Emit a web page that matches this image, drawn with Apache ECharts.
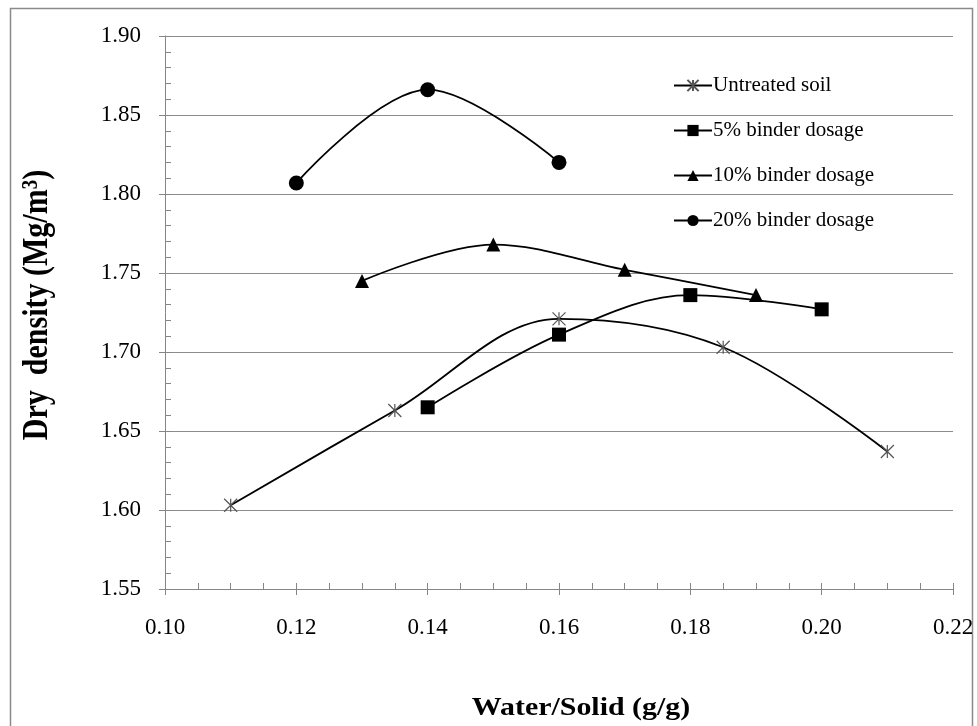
<!DOCTYPE html>
<html>
<head>
<meta charset="utf-8">
<script src="https://cdn.jsdelivr.net/npm/echarts@6/dist/echarts.min.js"></script>
<style>
  html, body { margin: 0; padding: 0; background: #fff; }
  #chart { width: 977px; height: 726px; }
</style>
</head>
<body>
<div id="chart"></div>
<script>
const seriesNames = ["Untreated soil", "5% binder dosage", "10% binder dosage", "20% binder dosage"];

const untreatedX = [0.11, 0.135, 0.16, 0.185, 0.21];
const untreatedY = [1.603, 1.663, 1.721, 1.703, 1.637];
const binder5X = [0.14, 0.16, 0.18, 0.20];
const binder5Y = [1.665, 1.711, 1.736, 1.727];
const binder10X = [0.13, 0.15, 0.17, 0.19];
const binder10Y = [1.745, 1.768, 1.752, 1.736];
const binder20X = [0.12, 0.14, 0.16];
const binder20Y = [1.807, 1.866, 1.820];

const xTicks = [0.10, 0.12, 0.14, 0.16, 0.18, 0.20, 0.22];
const yTicks = [1.55, 1.60, 1.65, 1.70, 1.75, 1.80, 1.85, 1.90];

const font = "Liberation Serif";
const axisGray = "#868686";
const asterisk = "path://M0,0L10,10M10,0L0,10M5,0L5,10";

function pairs(xs, ys) {
  return xs.map((x, i) => [x, ys[i]]);
}

var chart = echarts.init(document.getElementById("chart"));

function lineSeries(name, data, symbol, size, style) {
  return {
    type: "line",
    name: name,
    data: data,
    smooth: 0.35,
    symbol: symbol,
    symbolSize: size,
    showAllSymbol: true,
    lineStyle: { color: "#000", width: 1.8 },
    itemStyle: style,
    z: 3,
  };
}

var option = {
  backgroundColor: "#fff",
  animation: false,
  textStyle: { fontFamily: font },
  grid: { left: 165, right: 24, top: 36, bottom: 137 },
  legend: {
    orient: "vertical",
    left: 673,
    top: 75,
    itemWidth: 38,
    itemHeight: 14,
    itemGap: 24,
    padding: 0,
    textStyle: { fontFamily: font, fontSize: 21, color: "#000", padding: [0, 0, 0, -4] },
    data: seriesNames,
  },
  xAxis: [
    {
      type: "value",
      min: xTicks[0],
      max: xTicks[xTicks.length - 1],
      interval: 0.02,
      axisLine: { show: true, lineStyle: { color: axisGray, width: 1 } },
      axisTick: { show: true, length: 6, lineStyle: { color: axisGray } },
      minorTick: { show: true, splitNumber: 4, length: -6, lineStyle: { color: axisGray } },
      splitLine: { show: false },
      axisLabel: {
        margin: 27,
        fontFamily: font,
        fontSize: 23,
        color: "#000",
        formatter: (v) => v.toFixed(2),
      },
    },
    {
      type: "value",
      position: "bottom",
      min: xTicks[0],
      max: xTicks[xTicks.length - 1],
      interval: 0.02,
      axisLine: { show: false },
      axisTick: { show: true, inside: true, length: 6, lineStyle: { color: axisGray } },
      axisLabel: { show: false },
      splitLine: { show: false },
    },
  ],
  yAxis: [
    {
      type: "value",
      min: yTicks[0],
      max: yTicks[yTicks.length - 1],
      interval: 0.05,
      axisLine: { show: true, lineStyle: { color: axisGray, width: 1 } },
      axisTick: { show: true, length: 6, lineStyle: { color: axisGray } },
      minorTick: { show: true, splitNumber: 5, length: -6, lineStyle: { color: axisGray } },
      splitLine: { show: true, lineStyle: { color: "#8c8c8c", width: 1.2 } },
      axisLabel: {
        margin: 24,
        fontFamily: font,
        fontSize: 23,
        color: "#000",
        formatter: (v) => v.toFixed(2),
      },
    },
    {
      type: "value",
      position: "left",
      min: yTicks[0],
      max: yTicks[yTicks.length - 1],
      interval: 0.05,
      axisLine: { show: false },
      axisTick: { show: true, inside: true, length: 6, lineStyle: { color: axisGray } },
      axisLabel: { show: false },
      splitLine: { show: false },
    },
  ],
  graphic: [
    {
      type: "rect",
      left: 8,
      top: 6,
      shape: { width: 962, height: 730 },
      style: { fill: "none", stroke: "#8a8a8a", lineWidth: 1.5 },
      silent: true,
    },
    {
      type: "text",
      x: 581,
      y: 708,
      scaleX: 1.15,
      style: {
        text: "Water/Solid (g/g)",
        font: "bold 26px " + font,
        fill: "#000",
        align: "center",
        verticalAlign: "middle",
      },
    },
    {
      type: "text",
      x: 38,
      y: 305,
      rotation: Math.PI / 2,
      scaleY: 1.2,
      style: {
        text: "Dry  density (Mg/m{sup|3})",
        font: "bold 30px " + font,
        fill: "#000",
        align: "center",
        verticalAlign: "middle",
        rich: {
          sup: { font: "bold 19px " + font, fill: "#000", verticalAlign: "top", padding: [0, 0, 12, 0] },
        },
      },
    },
  ],
  series: [
    lineSeries(seriesNames[0], pairs(untreatedX, untreatedY), asterisk, 13,
      { color: "none", borderColor: "#555", borderWidth: 1.2 }),
    lineSeries(seriesNames[1], pairs(binder5X, binder5Y), "rect", 14, { color: "#000" }),
    lineSeries(seriesNames[2], pairs(binder10X, binder10Y), "triangle", 14, { color: "#000" }),
    lineSeries(seriesNames[3], pairs(binder20X, binder20Y), "circle", 15, { color: "#000" }),
  ],
};
option && chart.setOption(option);
</script>
</body>
</html>
